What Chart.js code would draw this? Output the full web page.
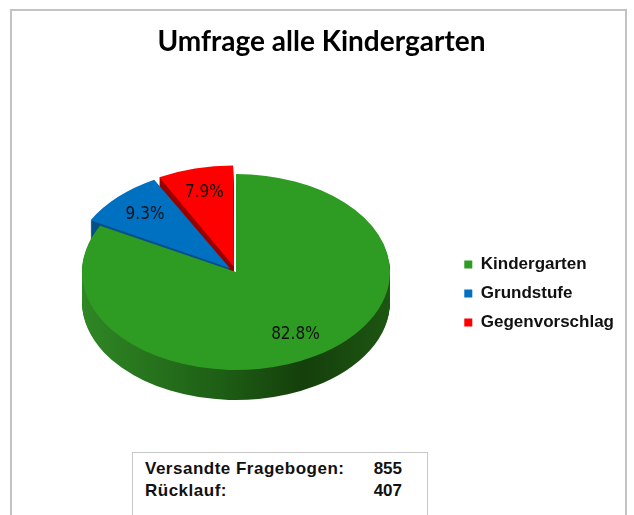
<!DOCTYPE html>
<html>
<head>
<meta charset="utf-8">
<script src="https://cdn.jsdelivr.net/npm/chart.js@4.4.1/dist/chart.umd.min.js"></script>
<style>
  html, body { margin: 0; padding: 0; background: #fff; }
  body { width: 634px; height: 515px; position: relative; overflow: hidden; }
  #frame { position: absolute; left: 10px; top: 9px; width: 617px; height: 530px; border: 2px solid #c3c3c3; box-sizing: border-box; }
  #wrap { position: absolute; left: 0; top: 0; width: 634px; height: 515px; }
  #info { position: absolute; left: 132px; top: 452px; width: 296px; height: 90px; border: 1px solid #c8c8c8; box-sizing: border-box; background: #fff;
          font: bold 17px "Liberation Sans", Arial, sans-serif; letter-spacing: 0.5px; color: #111; padding: 5px 0 0 12px; line-height: 22px; }
  #info .k { display: inline-block; width: 225px; }
  #info .v { display: inline-block; width: 32px; text-align: right; letter-spacing: 0; }
</style>
</head>
<body>
<div id="frame"></div>
<div id="wrap"><canvas id="chart"></canvas></div>
<div id="info"></div>
<script>
const categories = ["Kindergarten", "Grundstufe", "Gegenvorschlag"]
const responses = [337, 38, 32]
const infoLabels = ["Versandte Fragebogen:", "Rücklauf:"]
const infoValues = [855, 407]

const TOP_COLORS = ["#2e9b22", "#0070c0", "#ff0000"]
const SIDE_COLORS = [null, "#06508a", "#990000"]

// where the tilted pie lands on the page
const PIE = { cx: 236, cy: 272, rx: 154, ry: 98, depth: 30, labelAt: 0.75 }

document.getElementById("info").innerHTML = infoLabels
  .map((label, i) => `<div><span class="k">${label}</span><span class="v">${infoValues[i]}</span></div>`)
  .join("")

const tilt = (ctx, ref) => {
  const s = PIE.rx / ref.outerRadius
  ctx.translate(PIE.cx, PIE.cy)
  ctx.scale(s, (s * PIE.ry) / PIE.rx)
  ctx.translate(-ref.x, -ref.y)
}

const sideGradient = (ctx, ref) => {
  const g = ctx.createLinearGradient(ref.x - ref.outerRadius, 0, ref.x + ref.outerRadius, 0)
  g.addColorStop(0, "#2f8725")
  g.addColorStop(0.45, "#1e5e15")
  g.addColorStop(0.72, "#153f0b")
  g.addColorStop(1, "#1d5612")
  return g
}

const pie3d = {
  id: "pie3d",
  beforeDatasetsDraw(chart) {
    const ctx = chart.ctx
    const arcs = chart.getDatasetMeta(0).data
    const ref = arcs[0]
    ;[2, 1, 0].forEach((i) => {
      const arc = arcs[i]
      const ghost = Object.create(arc)
      for (let d = PIE.depth; d > 0; d--) {
        ctx.save()
        ctx.translate(0, d)
        tilt(ctx, ref)
        ghost.options = {
          ...arc.options,
          backgroundColor: i === 0 ? sideGradient(ctx, ref) : SIDE_COLORS[i],
          borderWidth: 0,
        }
        ghost.draw(ctx)
        ctx.restore()
      }
    })
    ctx.save()
    tilt(ctx, ref)
  },
  afterDatasetsDraw(chart) {
    const ctx = chart.ctx
    ctx.restore()
    const arcs = chart.getDatasetMeta(0).data
    const ref = arcs[0]
    const s = PIE.rx / ref.outerRadius
    const k = PIE.ry / PIE.rx
    const total = responses.reduce((a, b) => a + b, 0)
    ctx.save()
    ctx.font = "17px 'Liberation Sans Narrow', 'DejaVu Sans Condensed', sans-serif"
    ctx.fillStyle = "#111"
    ctx.textAlign = "center"
    ctx.textBaseline = "middle"
    arcs.forEach((arc, i) => {
      const mid = (arc.startAngle + arc.endAngle) / 2
      const off = (arc.options.offset || 0) / 4
      const fix = 1 - Math.sin(Math.min(Math.PI, arc.circumference))
      const dist = off * (1 + fix) + PIE.labelAt * arc.outerRadius
      const x = PIE.cx + s * Math.cos(mid) * dist
      const y = PIE.cy + s * k * Math.sin(mid) * dist
      const pct = ((responses[i] / total) * 100).toFixed(1) + "%"
      ctx.fillText(pct, x, y)
    })
    ctx.restore()
  },
}

new Chart(document.getElementById("chart"), {
  type: "pie",
  data: {
    labels: categories,
    datasets: [
      {
        data: responses,
        backgroundColor: TOP_COLORS,
        borderWidth: 0,
        offset: [0, 45, 45],
        hoverOffset: 0,
        clip: false,
      },
    ],
  },
  options: {
    responsive: true,
    maintainAspectRatio: false,
    animation: false,
    events: [],
    layout: { padding: { left: 19, right: 10, top: 0, bottom: 0 } },
    plugins: {
      title: {
        display: true,
        text: "Umfrage alle Kindergarten",
        color: "#000",
        font: { family: "Lato", size: 28, weight: "bold" },
        padding: { top: 25, bottom: 13 },
      },
      legend: {
        position: "right",
        align: "center",
        title: { display: true, text: "", font: { size: 10, lineHeight: 1 }, padding: { top: 62, bottom: 0 } },
        labels: {
          boxWidth: 8,
          boxHeight: 8,
          padding: 12,
          color: "#111",
          font: { family: "'Liberation Sans', Arial, sans-serif", size: 17, weight: "bold" },
        },
      },
      tooltip: { enabled: false },
    },
  },
  plugins: [pie3d],
})
</script>
</body>
</html>
